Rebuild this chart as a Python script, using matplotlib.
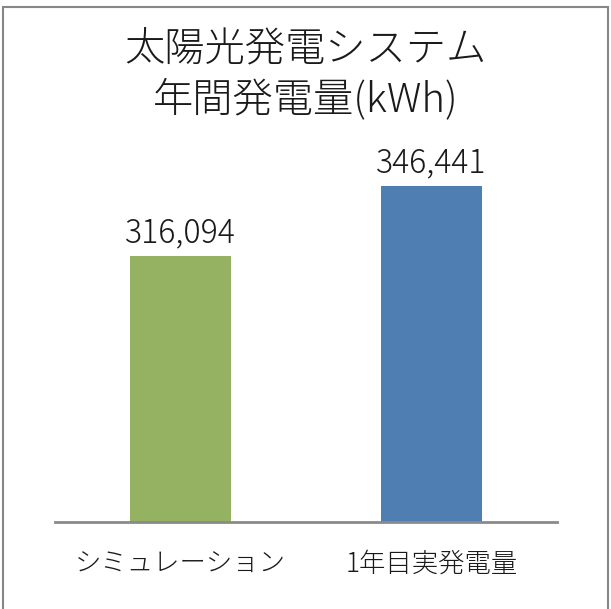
import matplotlib.pyplot as plt
from matplotlib.patches import Rectangle

plt.rcParams['font.family'] = ['Noto Sans CJK JP', 'DejaVu Sans']

# data
categories = ['シミュレーション', '1年目実発電量']
values = [316094, 346441]
bar_colors = ['#95B263', '#4F7EB3']
title_lines = ['太陽光発電システム', '年間発電量(kWh)']

W, H = 611, 609
fig = plt.figure(figsize=(W / 100, H / 100), dpi=100)

# outer chart border (Excel style)
fig.patches.append(Rectangle((2.5 / W, -0.05), (608 - 2.5) / W, 1.05 - 7 / H,
                             transform=fig.transFigure, fill=False,
                             edgecolor='#878787', linewidth=1.5))

ax = fig.add_axes([55 / W, (H - 522) / H, (557 - 55) / W, (522 - 63) / H])
x = range(len(categories))
bars = ax.bar(x, values, width=0.4, color=bar_colors)
ax.set_xlim(-0.5, 1.5)
ax.set_ylim(200000, 400000)

for s in ['top', 'right', 'left']:
    ax.spines[s].set_visible(False)
ax.spines['bottom'].set_color('#8a8a8a')
ax.spines['bottom'].set_linewidth(2)
ax.set_yticks([])
ax.set_xticks(list(x))
ax.set_xticklabels(categories, fontsize=19, color='#1a1a1a', fontweight='light')
ax.tick_params(axis='x', length=0, pad=20)

for bar, v in zip(bars, values):
    ax.annotate(f'{v:,}', (bar.get_x() + bar.get_width() / 2, v),
                xytext=(0, 4), textcoords='offset points',
                ha='center', va='bottom', fontsize=23, color='#1a1a1a',
                fontweight='light')

fig.text(0.5, 1 - 50 / H, title_lines[0], ha='center', va='center',
         fontsize=29, color='#1a1a1a', fontweight='light')
fig.text(0.5, 1 - 100 / H, title_lines[1], ha='center', va='center',
         fontsize=29, color='#1a1a1a', fontweight='light')

fig.savefig('out.png', dpi=100)
